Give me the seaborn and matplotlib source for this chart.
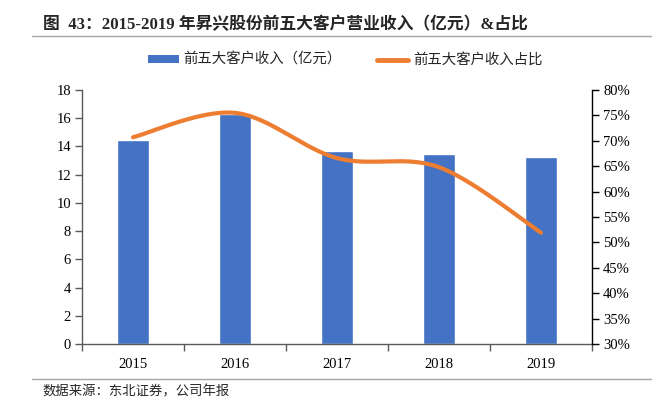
import numpy as np
import pandas as pd
import matplotlib
matplotlib.use("Agg")
import matplotlib.pyplot as plt
import seaborn as sns
from matplotlib.patches import Patch
from matplotlib.lines import Line2D
from matplotlib.ticker import FixedLocator, PercentFormatter

years = ["2015", "2016", "2017", "2018", "2019"]
revenue = [14.45, 16.3, 13.7, 13.5, 13.25]
share = [70.7, 75.5, 66.6, 64.8, 51.9]

title = "图  43：2015-2019 年昇兴股份前五大客户营业收入（亿元）&占比"
bar_label = "前五大客户收入（亿元）"
line_label = "前五大客户收入占比"
source = "数据来源：东北证券，公司年报"

sns.set_theme(style="white")
plt.rcParams['font.family'] = ['Liberation Serif', 'Noto Sans CJK SC']
plt.rcParams['axes.unicode_minus'] = False

BLUE = "#4472C4"
ORANGE = "#ED7D31"

fig = plt.figure(figsize=(6.62, 4.05), dpi=100)
ax = fig.add_axes([82/662, 1-344/405, (592-82)/662, (344-90)/405])

df = pd.DataFrame({"year": years, "rev": revenue})
sns.barplot(data=df, x="year", y="rev", ax=ax, color=BLUE, width=0.31, saturation=1)
ax.set_xlabel("")
ax.set_ylabel("")
ax.set_ylim(0, 18)
ax.set_yticks(np.arange(0, 19, 2))
ax.set_xlim(-0.5, 4.5)

# smooth curve (Catmull-Rom style like Excel smoothed line)
x = np.arange(len(share), dtype=float)
y = np.array(share, dtype=float)
px = np.concatenate([[x[0]], x, [x[-1]]])
py = np.concatenate([[y[0]], y, [y[-1]]])
cx, cy = [], []
t = np.linspace(0, 1, 60)
for i in range(len(x) - 1):
    p0 = np.array([px[i], py[i]]); p1 = np.array([px[i+1], py[i+1]])
    p2 = np.array([px[i+2], py[i+2]]); p3 = np.array([px[i+3], py[i+3]])
    c1 = p1 + (p2 - p0) / 6
    c2 = p2 - (p3 - p1) / 6
    pts = ((1-t)**3)[:, None]*p1 + (3*(1-t)**2*t)[:, None]*c1 + (3*(1-t)*t**2)[:, None]*c2 + (t**3)[:, None]*p2
    cx.extend(pts[:, 0]); cy.extend(pts[:, 1])

ax2 = ax.twinx()
sns.lineplot(x=np.array(cx), y=np.array(cy), ax=ax2, color=ORANGE, linewidth=3, sort=False,
             solid_capstyle="round")
ax2.set_ylim(30, 80)
ax2.set_yticks(np.arange(30, 81, 5))
ax2.yaxis.set_major_formatter(PercentFormatter(decimals=0))
ax2.set_xlim(-0.5, 4.5)
ax2.set_ylabel("")

for a in (ax, ax2):
    for s in a.spines.values():
        s.set_visible(False)
ax.spines['left'].set_visible(True)
ax.spines['bottom'].set_visible(True)
ax2.spines['right'].set_visible(True)
ax.spines['left'].set_color("#595959")
ax.spines['bottom'].set_color("#595959")
ax2.spines['right'].set_color("#000000")
for s in (ax.spines['left'], ax.spines['bottom'], ax2.spines['right']):
    s.set_linewidth(1.0)

ax.tick_params(axis='y', which='major', direction='out', length=5, width=1, color="#595959",
               labelsize=10.5, labelcolor="#000000", pad=3, left=True)
ax2.tick_params(axis='y', which='major', direction='out', length=5, width=1, color="#000000",
                labelsize=10.5, labelcolor="#000000", pad=3, right=True)
ax.tick_params(axis='x', which='major', length=0, labelsize=10.5, labelcolor="#000000", pad=10)
ax.xaxis.set_minor_locator(FixedLocator(np.arange(-0.5, 4.6, 1.0)))
ax.tick_params(axis='x', which='minor', direction='out', length=5, width=1, color="#595959", bottom=True)

fig.text(43/662, 1-25/405, title, fontsize=12.1, fontweight='bold', va='center', ha='left')
fig.add_artist(Line2D([32/662, 651/662], [1-36/405, 1-36/405], color="#A6A6A6", lw=1))
fig.add_artist(Line2D([32/662, 651/662], [1-379/405, 1-379/405], color="#A6A6A6", lw=1))
fig.text(43/662, 1-392/405, source, fontsize=9.6, va='center', ha='left')

handles = [Patch(facecolor=BLUE, edgecolor='none'), Line2D([0], [0], color=ORANGE, lw=3.5)]
fig.legend(handles, [bar_label, line_label], loc='center', bbox_to_anchor=(345/662, 1-60/405),
           ncol=2, frameon=False, fontsize=10.4, handlelength=2.15, handleheight=0.42,
           columnspacing=2.5, handletextpad=0.3, borderpad=0, borderaxespad=0)

fig.savefig("out.png", dpi=100)
